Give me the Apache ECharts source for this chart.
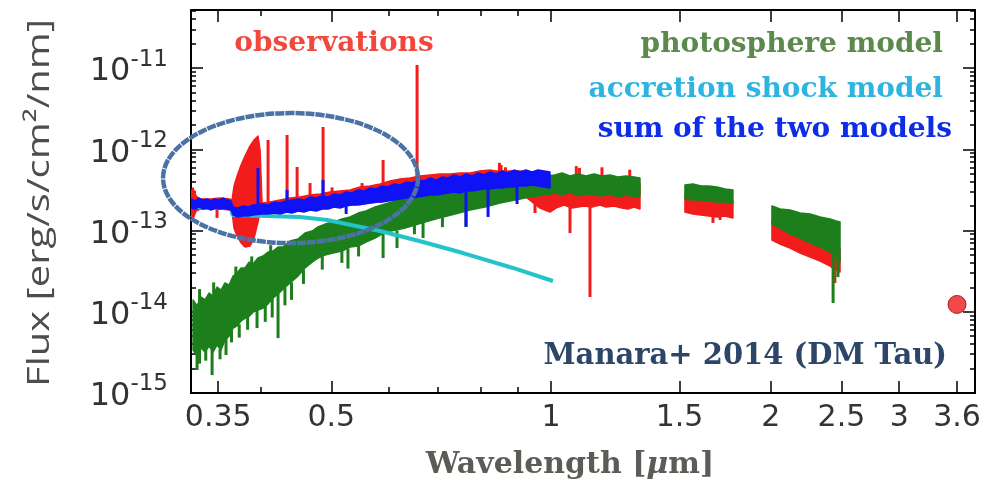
<!DOCTYPE html>
<html>
<head>
<meta charset="utf-8">
<script src="https://cdn.jsdelivr.net/npm/echarts@6/dist/echarts.min.js"></script>
<style>
html,body{margin:0;padding:0;background:#fff;}
#c{width:998px;height:488px;}
</style>
</head>
<body>
<div id="c"></div>
<script>
// ---------- axis ticks ----------
const xTicks = [0.35, 0.5, 1, 1.5, 2, 2.5, 3, 3.6];
const xTickLabels = ['0.35', '0.5', '1', '1.5', '2', '2.5', '3', '3.6'];
const xMinorTicks = [0.4, 0.6, 0.7, 0.8, 0.9];
const yTicks = [1e-15, 1e-14, 1e-13, 1e-12, 1e-11];
const yTickExponents = ['-15', '-14', '-13', '-12', '-11'];

// ---------- observations (red): [wavelength um, upper flux, lower flux] ----------
const obsSegOptJ = [
  [0.3212, 2.98e-13, 1.51e-13], [0.3233, 3.34e-13, 1.39e-13], [0.3264, 2.66e-13, 1.74e-13],
  [0.3306, 2.44e-13, 1.84e-13], [0.3411, 2.44e-13, 1.84e-13], [0.3520, 2.51e-13, 1.84e-13],
  [0.3633, 2.44e-13, 1.79e-13], [0.3656, 2.37e-13, 1.69e-13], [0.3679, 3.53e-13, 1.07e-13],
  [0.3715, 4.68e-13, 8.55e-14], [0.3762, 6.40e-13, 7.02e-14], [0.3809, 8.26e-13, 6.27e-14],
  [0.3870, 1.10e-12, 6.45e-14], [0.3919, 1.30e-12, 8.08e-14], [0.3968, 1.46e-12, 1.27e-13],
  [0.3994, 9.8e-13, 1.69e-13], [0.4019, 2.18e-13, 1.64e-13], [0.4122, 2.24e-13, 1.60e-13],
  [0.4254, 2.37e-13, 1.64e-13], [0.4390, 2.51e-13, 1.69e-13], [0.4530, 2.58e-13, 1.74e-13],
  [0.4676, 2.73e-13, 1.79e-13], [0.4826, 2.81e-13, 1.84e-13], [0.4981, 2.98e-13, 1.95e-13],
  [0.5141, 3.06e-13, 2.00e-13], [0.5306, 3.15e-13, 2.06e-13], [0.5476, 3.43e-13, 2.12e-13],
  [0.5652, 3.53e-13, 2.18e-13], [0.5833, 3.74e-13, 2.24e-13], [0.6020, 4.07e-13, 2.37e-13],
  [0.6213, 4.30e-13, 2.44e-13], [0.6411, 4.43e-13, 2.51e-13], [0.6616, 4.68e-13, 2.58e-13],
  [0.6828, 4.82e-13, 2.66e-13], [0.7047, 4.96e-13, 2.73e-13], [0.7273, 4.96e-13, 2.81e-13],
  [0.7506, 5.10e-13, 2.90e-13], [0.7745, 5.10e-13, 2.90e-13], [0.7993, 5.40e-13, 2.98e-13],
  [0.8250, 5.55e-13, 3.06e-13], [0.8408, 5.40e-13, 3.15e-13], [0.8568, 5.40e-13, 3.15e-13],
  [0.8732, 5.40e-13, 3.15e-13], [0.9069, 5.40e-13, 2.90e-13], [0.9359, 5.25e-13, 2.37e-13],
  [0.9659, 4.96e-13, 1.89e-13], [0.9968, 4.55e-13, 1.69e-13], [1.0159, 4.18e-13, 1.89e-13],
  [1.0418, 3.95e-13, 2.06e-13], [1.0685, 4.10e-13, 1.89e-13], [1.0889, 4.18e-13, 1.95e-13],
  [1.1097, 4.18e-13, 2.00e-13], [1.1380, 4.07e-13, 1.95e-13], [1.1672, 4.10e-13, 2.06e-13],
  [1.1894, 3.95e-13, 1.95e-13], [1.2198, 3.84e-13, 2.00e-13], [1.2510, 4.07e-13, 1.89e-13],
  [1.2749, 4.00e-13, 1.84e-13], [1.2993, 3.84e-13, 1.95e-13], [1.3241, 3.74e-13, 1.84e-13]
];
const obsSegH = [
  [1.5259, 2.66e-13, 1.69e-13], [1.5648, 2.51e-13, 1.60e-13], [1.6049, 2.51e-13, 1.55e-13],
  [1.6457, 2.44e-13, 1.51e-13], [1.6879, 2.37e-13, 1.47e-13], [1.7310, 2.37e-13, 1.51e-13],
  [1.7753, 2.31e-13, 1.43e-13]
];
const obsSegK = [
  [2.0078, 1.31e-13, 7.64e-14], [2.0596, 1.20e-13, 6.82e-14], [2.1258, 1.11e-13, 6.09e-14],
  [2.1940, 9.85e-14, 5.28e-14], [2.2645, 8.8e-14, 4.72e-14], [2.3373, 7.86e-14, 4.21e-14],
  [2.4122, 7.02e-14, 3.65e-14], [2.4581, 6.45e-14, 3.26e-14], [2.4888, 5.92e-14, 3.08e-14]
];
// narrow features of the observed spectrum: [wavelength, from flux, to flux]
const obsLines = [
  [0.3487, 1.80e-13, 1.43e-13],
  [0.4096, 2.2e-13, 1.30e-12], [0.4349, 2.3e-13, 1.50e-12], [0.4489, 2.4e-13, 6.05e-13],
  [0.4676, 2.6e-13, 3.84e-13], [0.4872, 2.7e-13, 1.88e-12], [0.5012, 2.9e-13, 3.40e-13],
  [0.5510, 3.3e-13, 3.84e-13], [0.5888, 3.6e-13, 7.37e-13], [0.6554, 4.5e-13, 1.09e-11],
  [0.8498, 4.5e-13, 6.8e-13], [0.8542, 4.5e-13, 6.4e-13], [0.8662, 4.5e-13, 6.0e-13],
  [1.0830, 4.3e-13, 6.2e-13], [1.0940, 4.3e-13, 5.9e-13], [1.1745, 4.3e-13, 6.0e-13],
  [1.2820, 4.3e-13, 5.6e-13],
  [0.9508, 2.5e-13, 1.64e-13], [1.0618, 2.0e-13, 9.3e-14], [1.1309, 2.0e-13, 1.52e-14],
  [1.6670, 1.5e-13, 1.24e-13], [1.7045, 1.5e-13, 1.35e-13], [2.4490, 3.3e-14, 2.26e-14]
];
const photometry = [[3.6, 1.23e-14]];

// ---------- photosphere model (green) ----------
const photSegOptJ = [
  [0.3233, 1.40e-14, 3.38e-15], [0.3274, 1.18e-14, 2.85e-15], [0.3316, 1.52e-14, 3.58e-15],
  [0.3357, 1.40e-14, 3.19e-15], [0.3400, 1.70e-14, 3.79e-15], [0.3443, 1.56e-14, 3.19e-15],
  [0.3487, 2.01e-14, 3.90e-15], [0.3531, 1.85e-14, 3.38e-15], [0.3576, 2.26e-14, 4.49e-15],
  [0.3622, 2.13e-14, 5.0e-15], [0.3668, 2.75e-14, 6.3e-15], [0.3715, 3.0e-14, 6.7e-15],
  [0.3762, 3.46e-14, 7.7e-15], [0.3809, 3.46e-14, 8.3e-15], [0.3858, 4.09e-14, 8.8e-15],
  [0.3907, 3.87e-14, 9.9e-15], [0.3968, 4.58e-14, 1.05e-14], [0.4032, 4.85e-14, 1.11e-14],
  [0.4096, 5.44e-14, 1.25e-14], [0.4161, 5.59e-14, 1.48e-14], [0.4227, 6.27e-14, 1.66e-14],
  [0.4294, 6.27e-14, 1.90e-14], [0.4390, 7.42e-14, 2.26e-14], [0.4501, 7.86e-14, 2.75e-14],
  [0.4603, 9.3e-14, 3.46e-14], [0.4707, 9.85e-14, 4.09e-14], [0.4795, 1.11e-13, 4.58e-14],
  [0.4903, 1.20e-13, 4.99e-14], [0.5028, 1.27e-13, 5.28e-14], [0.5172, 1.39e-13, 5.59e-14],
  [0.5306, 1.47e-13, 6.27e-14], [0.5442, 1.64e-13, 6.45e-14], [0.5578, 1.74e-13, 7.22e-14],
  [0.5742, 1.95e-13, 8.08e-14], [0.5925, 2.12e-13, 9.57e-14], [0.6115, 2.31e-13, 1.01e-13],
  [0.6310, 2.51e-13, 1.07e-13], [0.6513, 2.66e-13, 1.17e-13], [0.6722, 2.90e-13, 1.27e-13],
  [0.7047, 3.15e-13, 1.43e-13], [0.7389, 3.43e-13, 1.60e-13], [0.7745, 3.74e-13, 1.79e-13],
  [0.8121, 3.95e-13, 1.95e-13], [0.8514, 4.18e-13, 2.18e-13], [0.8927, 4.43e-13, 2.37e-13],
  [0.9359, 4.55e-13, 2.58e-13], [0.9813, 4.68e-13, 2.73e-13], [1.0127, 4.82e-13, 2.90e-13],
  [1.0353, 5.10e-13, 2.73e-13], [1.0618, 4.68e-13, 2.98e-13], [1.0889, 4.96e-13, 2.66e-13],
  [1.1167, 4.68e-13, 2.81e-13], [1.1453, 4.96e-13, 2.73e-13], [1.1745, 4.68e-13, 2.66e-13],
  [1.2045, 4.82e-13, 2.81e-13], [1.2353, 4.55e-13, 2.58e-13], [1.2668, 4.68e-13, 2.73e-13],
  [1.2993, 4.55e-13, 2.58e-13], [1.3241, 4.43e-13, 2.66e-13]
];
const photSegH = [
  [1.5259, 3.63e-13, 2.44e-13], [1.5648, 3.74e-13, 2.37e-13], [1.6049, 3.53e-13, 2.37e-13],
  [1.6457, 3.53e-13, 2.31e-13], [1.6879, 3.43e-13, 2.24e-13], [1.7310, 3.24e-13, 2.24e-13],
  [1.7753, 3.15e-13, 2.18e-13]
];
const photSegK = [
  [2.0078, 2.00e-13, 1.20e-13], [2.0596, 1.84e-13, 1.07e-13], [2.1258, 1.79e-13, 9.05e-14],
  [2.1940, 1.64e-13, 8.08e-14], [2.2645, 1.60e-13, 7.02e-14], [2.3373, 1.47e-13, 6.27e-14],
  [2.4122, 1.39e-13, 5.44e-14], [2.4581, 1.31e-13, 4.58e-14], [2.4888, 1.27e-13, 4.09e-14]
];
const photLines = [
  [0.3274, 3.4e-15, 1.92e-15], [0.3300, 3.5e-15, 2.3e-15], [0.3365, 3.5e-15, 2.5e-15],
  [0.3433, 3.4e-15, 1.66e-15], [0.3520, 3.5e-15, 2.6e-15], [0.3587, 5.0e-15, 2.93e-15],
  [0.3650, 6.0e-15, 4.2e-15], [0.3740, 7.0e-15, 4.8e-15], [0.3840, 9.0e-15, 6.0e-15],
  [0.3956, 1.1e-14, 6.3e-15], [0.4060, 1.2e-14, 7.5e-15], [0.4150, 1.5e-14, 8.5e-15],
  [0.4227, 1.8e-14, 4.74e-15], [0.4320, 2.0e-14, 1.2e-14], [0.4410, 2.3e-14, 1.4e-14],
  [0.4580, 3.3e-14, 2.2e-14], [0.4860, 4.8e-14, 3.3e-14], [0.5170, 5.6e-14, 4.0e-14],
  [0.5270, 6.0e-14, 3.4e-14], [0.5450, 6.5e-14, 4.8e-14], [0.5888, 1.0e-13, 4.58e-14],
  [0.6152, 1.0e-13, 6.09e-14], [0.6500, 1.2e-13, 9.0e-14], [0.6679, 1.3e-13, 8.08e-14],
  [0.7100, 1.45e-13, 1.1e-13], [0.7648, 1.8e-13, 1.11e-13],
  [0.3300, 1.2e-14, 1.9e-14], [0.3450, 1.5e-14, 2.3e-14], [0.3700, 2.8e-14, 3.6e-14],
  [0.3890, 3.8e-14, 4.8e-14], [0.4130, 5.4e-14, 6.6e-14],
  [2.4350, 5.0e-14, 1.28e-14], [2.4727, 4.5e-14, 2.67e-14]
];

// ---------- accretion shock model (cyan) ----------
const accretion = [
  [0.3212, 1.95e-13], [0.3645, 1.95e-13], [0.3660, 1.55e-13], [0.4530, 1.47e-13],
  [0.4934, 1.35e-13], [0.5833, 9.85e-14], [0.6679, 7.22e-14], [0.7577, 5.28e-14],
  [0.8870, 3.46e-14], [1.0060, 2.39e-14]
];

// ---------- sum of the two models (blue) ----------
const sumSeg = [
  [0.3212, 2.44e-13, 1.89e-13], [0.3253, 2.31e-13, 1.84e-13], [0.3295, 2.51e-13, 1.95e-13],
  [0.3336, 2.37e-13, 1.84e-13], [0.3379, 2.44e-13, 1.89e-13], [0.3421, 2.31e-13, 1.79e-13],
  [0.3465, 2.44e-13, 1.89e-13], [0.3508, 2.37e-13, 1.84e-13], [0.3553, 2.51e-13, 1.89e-13],
  [0.3599, 2.37e-13, 1.84e-13], [0.3644, 2.31e-13, 1.79e-13], [0.3668, 1.95e-13, 1.55e-13],
  [0.3726, 1.89e-13, 1.47e-13], [0.3785, 2.00e-13, 1.51e-13], [0.3846, 1.95e-13, 1.51e-13],
  [0.3907, 2.06e-13, 1.55e-13], [0.4019, 2.12e-13, 1.60e-13], [0.4096, 2.06e-13, 1.60e-13],
  [0.4174, 2.24e-13, 1.64e-13], [0.4254, 2.18e-13, 1.60e-13], [0.4335, 2.31e-13, 1.69e-13],
  [0.4417, 2.37e-13, 1.64e-13], [0.4501, 2.44e-13, 1.74e-13], [0.4588, 2.37e-13, 1.69e-13],
  [0.4676, 2.58e-13, 1.79e-13], [0.4766, 2.51e-13, 1.74e-13], [0.4857, 2.66e-13, 1.84e-13],
  [0.4950, 2.58e-13, 1.84e-13], [0.5044, 2.81e-13, 1.95e-13], [0.5141, 2.73e-13, 1.89e-13],
  [0.5240, 2.98e-13, 2.00e-13], [0.5339, 2.90e-13, 2.06e-13], [0.5442, 3.15e-13, 2.06e-13],
  [0.5546, 3.06e-13, 2.12e-13], [0.5652, 3.34e-13, 2.18e-13], [0.5760, 3.24e-13, 2.24e-13],
  [0.5870, 3.53e-13, 2.24e-13], [0.5981, 3.43e-13, 2.31e-13], [0.6096, 3.74e-13, 2.37e-13],
  [0.6213, 3.63e-13, 2.44e-13], [0.6331, 3.95e-13, 2.51e-13], [0.6452, 3.84e-13, 2.51e-13],
  [0.6575, 4.18e-13, 2.58e-13], [0.6699, 4.07e-13, 2.66e-13], [0.6828, 4.43e-13, 2.73e-13],
  [0.6958, 4.18e-13, 2.73e-13], [0.7091, 4.55e-13, 2.81e-13], [0.7226, 4.43e-13, 2.90e-13],
  [0.7365, 4.82e-13, 2.98e-13], [0.7506, 4.55e-13, 2.90e-13], [0.7648, 4.96e-13, 3.06e-13],
  [0.7794, 4.68e-13, 3.06e-13], [0.7943, 5.10e-13, 3.15e-13], [0.8095, 4.82e-13, 3.24e-13],
  [0.8250, 5.25e-13, 3.24e-13], [0.8408, 4.96e-13, 3.34e-13], [0.8568, 5.40e-13, 3.34e-13],
  [0.8732, 5.10e-13, 3.43e-13], [0.8899, 5.55e-13, 3.43e-13], [0.9069, 5.25e-13, 3.53e-13],
  [0.9242, 5.55e-13, 3.53e-13], [0.9418, 5.25e-13, 3.63e-13], [0.9598, 5.55e-13, 3.53e-13],
  [0.9781, 5.40e-13, 3.43e-13], [0.9968, 5.25e-13, 3.34e-13]
];
const sumLines = [
  [0.3968, 2.0e-13, 5.88e-13], [0.4349, 2.0e-13, 3.15e-13], [0.4872, 2.2e-13, 4.18e-13],
  [0.5240, 2.1e-13, 1.60e-13], [0.7648, 3.0e-13, 1.11e-13], [0.8199, 3.2e-13, 1.47e-13],
  [0.8984, 3.5e-13, 2.12e-13]
];

// ---------- highlight ellipse, in data units (wavelength / flux bounds) ----------
const ellipseBounds = { lamMin: 0.2941, lamMax: 0.6573, fluxMax: 2.79e-12, fluxMin: 7.0e-14 };

// ---------- colours ----------
const C_OBS = '#f21c1c', C_PHOT = '#1c7f1c', C_ACC = '#22c4c9', C_SUM = '#0f12f5';

const chart = echarts.init(document.getElementById('c'), null, { renderer: 'canvas' });

function bandSeries(name, segs, color, z) {
  return {
    type: 'custom', name: name, z: z, clip: true, silent: true,
    xAxisIndex: 0, yAxisIndex: 0,
    data: segs.map(s => [s[0][0], s[0][1]]),
    encode: { x: 0, y: 1 },
    renderItem: function (params, api) {
      const seg = segs[params.dataIndex];
      const pts = [];
      for (let i = 0; i < seg.length; i++) pts.push(api.coord([seg[i][0], seg[i][1]]));
      for (let i = seg.length - 1; i >= 0; i--) pts.push(api.coord([seg[i][0], seg[i][2]]));
      return { type: 'polygon', shape: { points: pts },
        style: { fill: color, stroke: color, lineWidth: 1.5, lineJoin: 'round' } };
    }
  };
}
function featureSeries(name, lines, color, width, z) {
  return {
    type: 'custom', name: name, z: z, clip: true, silent: true,
    xAxisIndex: 0, yAxisIndex: 0,
    data: lines,
    encode: { x: 0, y: [1, 2] },
    renderItem: function (params, api) {
      const a = api.coord([api.value(0), api.value(1)]);
      const b = api.coord([api.value(0), api.value(2)]);
      return { type: 'line', shape: { x1: a[0], y1: a[1], x2: b[0], y2: b[1] },
        style: { stroke: color, lineWidth: width } };
    }
  };
}

const yMinor = [];
for (let d = -15; d <= -11; d++) {
  for (let k = 2; k <= 9; k++) {
    const v = k * Math.pow(10, d);
    if (v < 5.1e-11) yMinor.push(v);
  }
}

const X_MIN = 0.3212, X_MAX = 3.81, Y_MIN = 1e-15, Y_MAX = 5.18e-11;
const tickLine = { color: '#000', width: 1.5 };
const baseX = { type: 'log', min: X_MIN, max: X_MAX, splitLine: { show: false } };
const baseY = { type: 'log', min: Y_MIN, max: Y_MAX, splitLine: { show: false } };

function nearestLabel(v) {
  let best = 0;
  for (let i = 1; i < xTicks.length; i++) {
    if (Math.abs(Math.log(xTicks[i] / v)) < Math.abs(Math.log(xTicks[best] / v))) best = i;
  }
  return xTickLabels[best];
}
function yLabel(v) {
  const e = Math.round(Math.log10(v));
  const i = yTicks.findIndex(t => Math.round(Math.log10(t)) === e);
  return '{b|10}{s|' + yTickExponents[i] + '}';
}

const option = {
  animation: false,
  backgroundColor: '#ffffff',
  grid: { left: 191, right: 23, top: 10, bottom: 95, containLabel: false },
  xAxis: [
    Object.assign({}, baseX, {
      position: 'bottom',
      axisLine: { show: true, lineStyle: { color: '#000', width: 2 } },
      axisTick: { show: true, inside: true, length: 12, customValues: xTicks, lineStyle: tickLine },
      axisLabel: { show: true, customValues: xTicks, formatter: nearestLabel, margin: 10,
        fontSize: 30, fontFamily: 'DejaVu Sans', color: '#333' }
    }),
    Object.assign({}, baseX, {
      position: 'bottom', offset: 0,
      axisLine: { show: false },
      axisTick: { show: true, inside: true, length: 6, customValues: xMinorTicks, lineStyle: tickLine },
      axisLabel: { show: false }
    }),
    Object.assign({}, baseX, {
      position: 'top',
      axisLine: { show: true, lineStyle: { color: '#000', width: 2 } },
      axisTick: { show: true, inside: true, length: 12, customValues: xTicks, lineStyle: tickLine },
      axisLabel: { show: false }
    }),
    Object.assign({}, baseX, {
      position: 'top', offset: 0,
      axisLine: { show: false },
      axisTick: { show: true, inside: true, length: 6, customValues: xMinorTicks, lineStyle: tickLine },
      axisLabel: { show: false }
    })
  ],
  yAxis: [
    Object.assign({}, baseY, {
      position: 'left',
      axisLine: { show: true, lineStyle: { color: '#000', width: 2 } },
      axisTick: { show: true, inside: true, length: 12, customValues: yTicks, lineStyle: tickLine },
      axisLabel: { show: true, customValues: yTicks, formatter: yLabel, margin: 23,
        rich: {
          b: { fontSize: 32, fontFamily: 'DejaVu Sans', color: '#333', padding: [8, 0, 0, 0] },
          s: { fontSize: 23, fontFamily: 'DejaVu Sans', color: '#333', verticalAlign: 'top' }
        } }
    }),
    Object.assign({}, baseY, {
      position: 'left', offset: 0,
      axisLine: { show: false },
      axisTick: { show: true, inside: true, length: 5, customValues: yMinor, lineStyle: tickLine },
      axisLabel: { show: false }
    }),
    Object.assign({}, baseY, {
      position: 'right',
      axisLine: { show: true, lineStyle: { color: '#000', width: 2 } },
      axisTick: { show: true, inside: true, length: 12, customValues: yTicks, lineStyle: tickLine },
      axisLabel: { show: false }
    }),
    Object.assign({}, baseY, {
      position: 'right', offset: 0,
      axisLine: { show: false },
      axisTick: { show: true, inside: true, length: 5, customValues: yMinor, lineStyle: tickLine },
      axisLabel: { show: false }
    })
  ],
  series: [
    bandSeries('observations', [obsSegOptJ, obsSegH, obsSegK], C_OBS, 2),
    featureSeries('observations lines', obsLines, C_OBS, 3, 2),
    bandSeries('photosphere model', [photSegOptJ, photSegH, photSegK], C_PHOT, 3),
    featureSeries('photosphere lines', photLines, C_PHOT, 3, 3),
    { type: 'line', name: 'accretion shock model', data: accretion, z: 4,
      xAxisIndex: 0, yAxisIndex: 0, symbol: 'none', showSymbol: false, clip: true,
      lineStyle: { color: C_ACC, width: 4 } },
    bandSeries('sum of the two models', [sumSeg], C_SUM, 5),
    featureSeries('sum lines', sumLines, C_SUM, 3, 5),
    { type: 'scatter', name: 'photometry', data: photometry, z: 6,
      xAxisIndex: 0, yAxisIndex: 0, symbolSize: 18,
      itemStyle: { color: '#ee1c1c', borderColor: '#9a0000', borderWidth: 1 } }
  ]
};
chart.setOption(option);

// ---------- annotations ----------
const serif = 'DejaVu Serif';
function txt(x, y, text, color, size, align) {
  return { type: 'text', x: x, y: y, z: 50,
    style: { text: text, fill: color, fontSize: size, fontFamily: serif, fontWeight: 'bold',
      align: align, verticalAlign: 'middle', textAlign: align, textVerticalAlign: 'middle' } };
}
const p1 = chart.convertToPixel({ xAxisIndex: 0, yAxisIndex: 0 }, [ellipseBounds.lamMin, ellipseBounds.fluxMax]);
const p2 = chart.convertToPixel({ xAxisIndex: 0, yAxisIndex: 0 }, [ellipseBounds.lamMax, ellipseBounds.fluxMin]);

chart.setOption({
  graphic: [
    { type: 'ellipse', z: 60, silent: true,
      shape: { cx: (p1[0] + p2[0]) / 2, cy: (p1[1] + p2[1]) / 2,
               rx: Math.abs(p2[0] - p1[0]) / 2, ry: Math.abs(p2[1] - p1[1]) / 2 },
      style: { fill: 'none', stroke: '#4b72a5', lineWidth: 4.5, lineDash: [9, 1] } },
    txt(334, 44, 'observations', '#f2473c', 28, 'center'),
    txt(943, 45, 'photosphere model', '#5b8a4c', 28, 'right'),
    txt(943, 90, 'accretion shock model', '#2db4e0', 28, 'right'),
    txt(952, 130, 'sum of the two models', '#0d2ee6', 28, 'right'),
    txt(947, 356, 'Manara+ 2014 (DM Tau)', '#2d4668', 29, 'right'),
    { type: 'text', x: 570, y: 465, z: 50,
      style: { text: '{a|Wavelength [}{i|μ}{a|m]}', align: 'center', verticalAlign: 'middle',
        textAlign: 'center', textVerticalAlign: 'middle',
        rich: {
          a: { fontSize: 30, fontFamily: serif, fontWeight: 'bold', fill: '#5c5c57', color: '#5c5c57' },
          i: { fontSize: 30, fontFamily: serif, fontWeight: 'bold', fontStyle: 'italic', fill: '#5c5c57', color: '#5c5c57' }
        } } },
    { type: 'text', x: 40, y: 203, rotation: Math.PI / 2, scaleX: 1.29, z: 50,
      style: { text: 'Flux [erg/s/cm²/nm]', fill: '#4d4d4d', fontSize: 31, fontFamily: 'Open Sans',
        align: 'center', verticalAlign: 'middle', textAlign: 'center', textVerticalAlign: 'middle' } }
  ]
});
</script>
</body>
</html>
